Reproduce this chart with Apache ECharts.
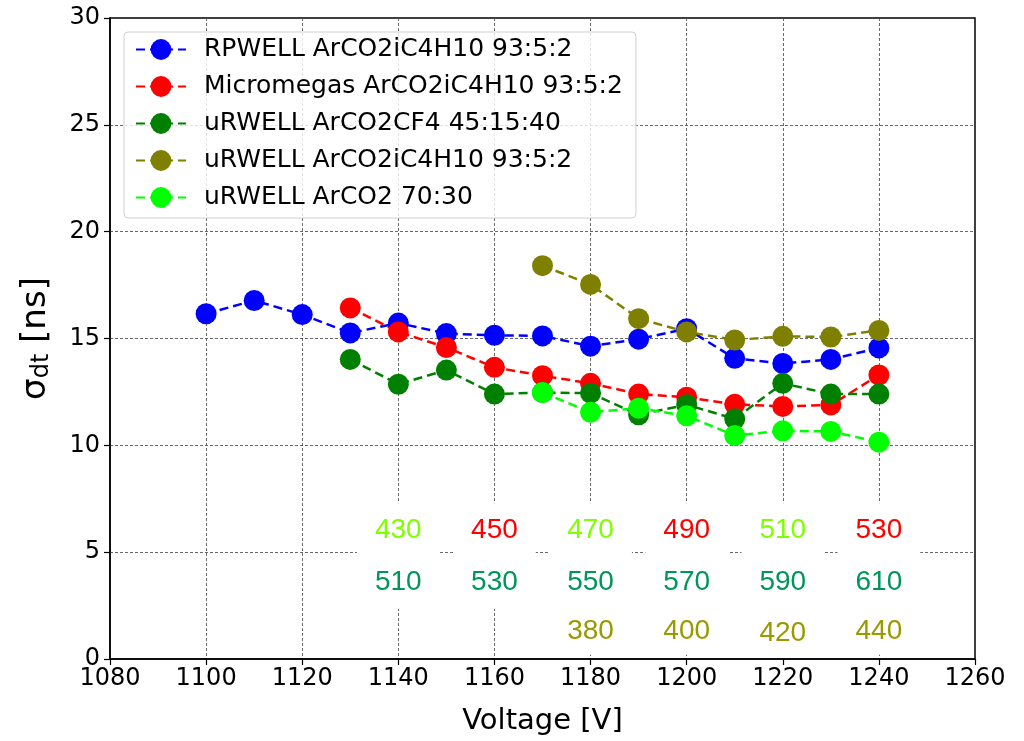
<!DOCTYPE html>
<html>
<head>
<meta charset="utf-8">
<script src="https://cdn.jsdelivr.net/npm/echarts@6/dist/echarts.min.js"></script>
<style>html,body{margin:0;padding:0;background:#fff;}#main{width:1024px;height:741px;}</style>
</head>
<body>
<div id="main"></div>
<script>
// ---- data ----
const voltage = [1100,1110,1120,1130,1140,1150,1160,1170,1180,1190,1200,1210,1220,1230,1240];
const rpwell = [16.16,16.78,16.12,15.26,15.72,15.23,15.15,15.12,14.64,14.97,15.46,14.07,13.83,14.02,14.56];
const micromegasV = [1130,1140,1150,1160,1170,1180,1190,1200,1210,1220,1230,1240];
const micromegas = [16.43,15.31,14.58,13.65,13.26,12.9,12.4,12.25,11.92,11.82,11.89,13.29];
const urwellCF4V = [1130,1140,1150,1160,1170,1180,1190,1200,1210,1220,1230,1240];
const urwellCF4 = [14.02,12.86,13.52,12.4,12.47,12.44,11.43,11.9,11.24,12.9,12.4,12.4];
const urwellIsoV = [1170,1180,1190,1200,1210,1220,1230,1240];
const urwellIso = [18.41,17.53,15.93,15.31,14.93,15.1,15.07,15.38];
const urwellArCO2V = [1170,1180,1190,1200,1210,1220,1230,1240];
const urwellArCO2 = [12.47,11.55,11.74,11.38,10.46,10.68,10.65,10.15];
const seriesNames = ['RPWELL ArCO2iC4H10 93:5:2','Micromegas ArCO2iC4H10 93:5:2','uRWELL ArCO2CF4 45:15:40','uRWELL ArCO2iC4H10 93:5:2','uRWELL ArCO2 70:30'];

// annotation texts (drift voltages) placed at voltage/sigma coordinates
const annLimeX = [1140,1180,1220];
const annLimeY = [6.02,6.02,6.02];
const annLimeText = ['430','470','510'];
const annRedX = [1160,1200,1240];
const annRedY = [6.02,6.02,6.02];
const annRedText = ['450','490','530'];
const annGreenX = [1140,1160,1180,1200,1220,1240];
const annGreenY = [3.6,3.6,3.6,3.6,3.6,3.6];
const annGreenText = ['510','530','550','570','590','610'];
const annOliveX = [1180,1200,1220,1240];
const annOliveY = [1.32,1.32,1.22,1.32];
const annOliveText = ['380','400','420','440'];

const xTicks = {min:1080, max:1260, interval:20};
const yTicks = {min:0, max:30, interval:5};

// ---- chart ----
const colors = ['#0000ff','#ff0000','#008000','#808000','#00ff00'];
function pairs(xs, ys){ return xs.map((x,i)=>[x, ys[i]]); }
function lineSeries(name, xs, ys, color){
  return {
    name, type:'line', data:pairs(xs,ys), symbol:'circle', symbolSize:21,
    itemStyle:{color}, lineStyle:{color, width:2.5, type:[9,5]},
    emphasis:{disabled:true}, animation:false
  };
}
function annSeries(xs, ys, texts, color, pad){
  return {
    type:'scatter', silent:true, symbolSize:0, animation:false, z:5,
    itemStyle:{opacity:1},
    data: xs.map((x,i)=>({value:[x, ys[i]], name:texts[i]})),
    label:{show:true, position:'inside', formatter:p=>p.name, color, opacity:1,
      fontFamily:'Liberation Sans', fontSize:28, backgroundColor:'#ffffff',
      padding:pad, lineHeight:28}
  };
}
const gridStyle = {show:true, lineStyle:{color:'#444', width:0.8, type:[3,2]}};
const chart = echarts.init(document.getElementById('main'), null, {renderer:'canvas'});
chart.setOption({
  backgroundColor:'#fff',
  animation:false,
  grid:{left:110, right:49, top:18, bottom:79, show:true, borderColor:'#000', borderWidth:1.5, containLabel:false},
  legend:{
    orient:'vertical', left:124, top:32,
    data: seriesNames,
    itemWidth:50, itemHeight:26, itemGap:12,
    padding:[5,13,8,11],
    backgroundColor:'rgba(255,255,255,0.8)', borderColor:'#d0d0d0', borderWidth:1, borderRadius:4,
    textStyle:{fontFamily:'DejaVu Sans', fontSize:25, color:'#000', padding:[0,0,0,13]}
  },
  xAxis:{
    type:'value', min:xTicks.min, max:xTicks.max, interval:xTicks.interval,
    name:'Voltage [V]', nameLocation:'middle', nameGap:48,
    nameTextStyle:{fontFamily:'DejaVu Sans', fontSize:29, color:'#000'},
    axisLine:{show:true, lineStyle:{color:'#000', width:1.5}},
    axisTick:{show:true, inside:false, length:6, lineStyle:{color:'#000', width:1.2}},
    axisLabel:{fontFamily:'DejaVu Sans', fontSize:24, color:'#000', margin:8, formatter:v=>String(v)},
    splitLine:gridStyle
  },
  yAxis:{
    type:'value', min:yTicks.min, max:yTicks.max, interval:yTicks.interval,
    name:'{s|σ}{sub|dt}{s| [ns]}', nameLocation:'middle', nameGap:56, nameRotate:90,
    nameTextStyle:{padding:[0,0,0,0], rich:{
      s:{fontFamily:'DejaVu Sans', fontSize:34, color:'#000'},
      sub:{fontFamily:'DejaVu Sans', fontSize:24, color:'#000', verticalAlign:'bottom', padding:[12,0,0,0]}
    }},
    axisLine:{show:true, lineStyle:{color:'#000', width:1.5}},
    axisTick:{show:true, inside:false, length:6, lineStyle:{color:'#000', width:1.2}},
    axisLabel:{fontFamily:'DejaVu Sans', fontSize:24, color:'#000', margin:10},
    splitLine:gridStyle
  },
  series:[
    lineSeries(seriesNames[0], voltage, rpwell, colors[0]),
    lineSeries(seriesNames[1], micromegasV, micromegas, colors[1]),
    lineSeries(seriesNames[2], urwellCF4V, urwellCF4, colors[2]),
    lineSeries(seriesNames[3], urwellIsoV, urwellIso, colors[3]),
    lineSeries(seriesNames[4], urwellArCO2V, urwellArCO2, colors[4]),
    annSeries(annLimeX, annLimeY, annLimeText, '#80ff00', [13,18]),
    annSeries(annRedX, annRedY, annRedText, '#ff0000', [13,18]),
    annSeries(annGreenX, annGreenY, annGreenText, '#00965a', [13,18]),
    annSeries(annOliveX, annOliveY, annOliveText, '#999900', [10,18])
  ]
});
</script>
</body>
</html>
